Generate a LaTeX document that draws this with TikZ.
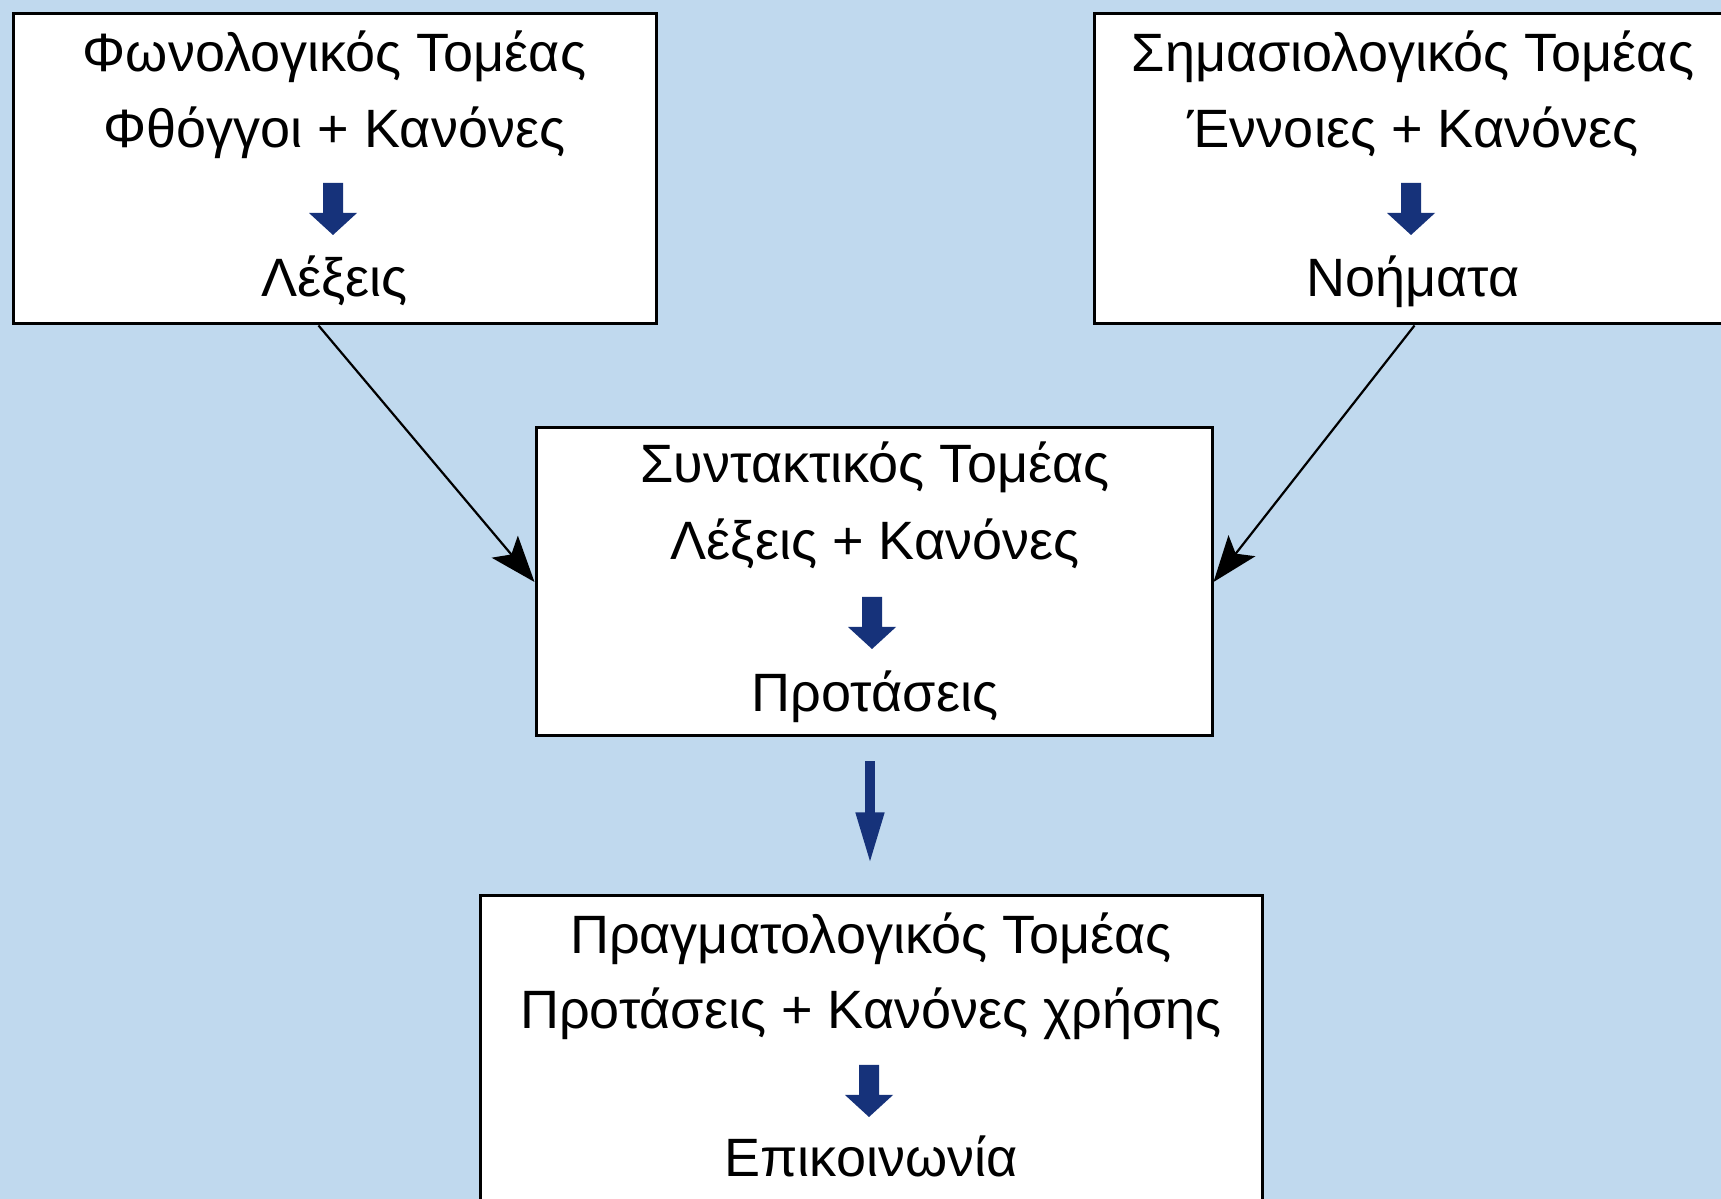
\documentclass[tikz,border=0pt]{standalone}
\usepackage{fontspec}
\setmainfont{Liberation Sans}
\usetikzlibrary{arrows.meta,calc}
\definecolor{bgblue}{RGB}{192,217,238}
\definecolor{navy}{RGB}{22,50,122}
\begin{document}
\begin{tikzpicture}[x=1pt,y=1pt,
  box/.style={draw=black,line width=3pt,fill=white,inner sep=0pt},
  txt/.style={anchor=base,inner sep=0pt,font=\fontsize{54}{64}\selectfont},
  conn/.style={draw=black,line width=2.2pt,-{Stealth[length=46pt,width=34pt,inset=10pt]}},
  blk/.pic={\fill[navy] (-10,0) -- (10,0) -- (10,-30) -- (24,-30) -- (0,-52) -- (-24,-30) -- (-10,-30) -- cycle;}
]
\useasboundingbox (0,0) rectangle (1721,1199);
\clip (0,0) rectangle (1721,1199);
\fill[bgblue] (0,0) rectangle (1721,1199);

% boxes
\node[box,minimum width=643pt,minimum height=310pt] (b1) at (334.5,1030) {};
\node[box,minimum width=641pt,minimum height=310pt] (b2) at (1414.5,1030) {};
\node[box,minimum width=676pt,minimum height=308pt] (b3) at (874,617) {};
\node[box,minimum width=782pt,minimum height=320pt] (b4) at (871,143) {};

% box 1
\node[txt] (b1a) at (334.5,1127) {Φωνολογικός Τομέας};
\node[txt] (b1b) at (334.5,1051) {Φθόγγοι + Κανόνες};
\pic at (333,1016) {blk};
\node[txt] (b1c) at (334.5,902) {Λέξεις};

% box 2
\node[txt] (b2a) at (1413,1127) {Σημασιολογικός Τομέας};
\node[txt] (b2b) at (1413,1051) {Έννοιες + Κανόνες};
\pic at (1411,1016) {blk};
\node[txt] (b2c) at (1413,902) {Νοήματα};

% box 3
\node[txt] (b3a) at (875,716) {Συντακτικός Τομέας};
\node[txt] (b3b) at (875,639) {Λέξεις + Κανόνες};
\pic at (872,602) {blk};
\node[txt] (b3c) at (875,487) {Προτάσεις};

% box 4
\node[txt] (b4a) at (871,245) {Πραγματολογικός Τομέας};
\node[txt] (b4b) at (871,170) {Προτάσεις + Κανόνες χρήσης};
\pic at (869,134) {blk};
\node[txt] (b4c) at (871,22) {Επικοινωνία};

% connectors
\draw[conn] ($(b1.south)+(-16,0)$) -- (b3.west);
\draw[conn] (b2.south) -- (b3.east);
\draw[navy,line width=10pt,-{Triangle[length=52pt,width=26pt]}] ($(b3.south)+(-4,-24)$) -- ($(b4.north)+(-1,30)$);
\end{tikzpicture}
\end{document}
